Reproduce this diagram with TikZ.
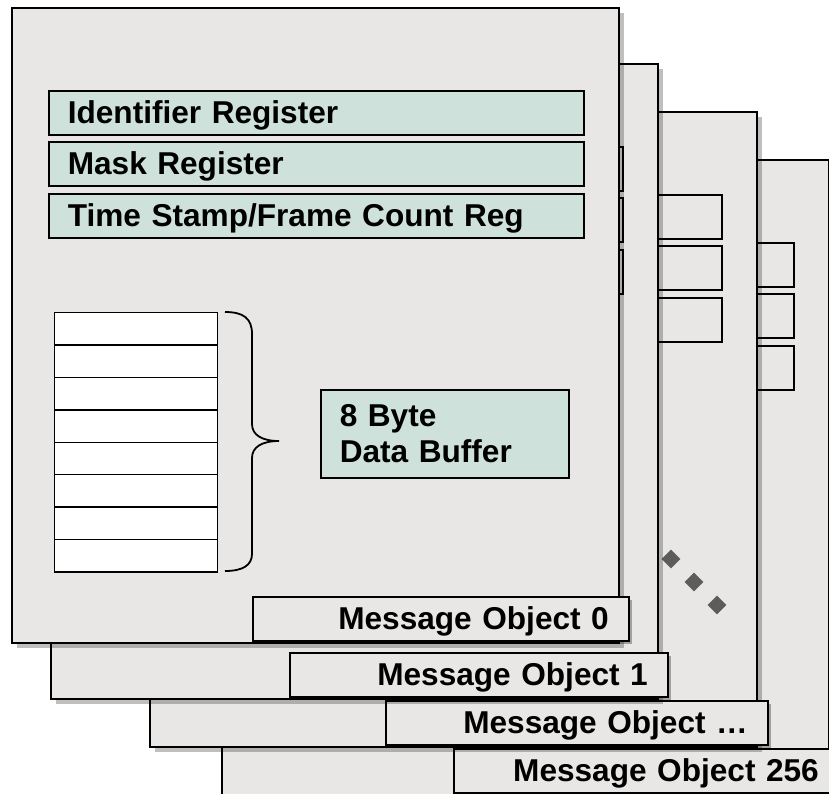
\documentclass[tikz,border=0pt]{standalone}
\usepackage{fontspec}
\setmainfont{Liberation Sans}
\usetikzlibrary{shadows,shapes.geometric}

\definecolor{pagegray}{RGB}{232,231,229}
\definecolor{reggreen}{RGB}{206,226,219}
\definecolor{dotgray}{RGB}{92,92,92}
\newcommand{\regfont}{\fontsize{31.6}{36}\selectfont\bfseries}

\begin{document}
\begin{tikzpicture}[x=1pt,y=-1pt,
   page/.style={draw=black,line width=1.8pt,fill=pagegray,minimum width=607pt,minimum height=635pt,
      anchor=north west,inner sep=0pt,drop shadow={shadow xshift=5pt,shadow yshift=-5pt,opacity=0.25,fill=black}},
   reg/.style={draw=black,line width=1.6pt,fill=reggreen,minimum width=535pt,minimum height=44pt,anchor=north west,
      inner xsep=19pt,inner ysep=0pt,text width=497pt,align=left,text height=22pt,text depth=0pt,font=\regfont},
   emptyreg/.style={reg,fill=pagegray},
   msgbox/.style={draw=black,line width=1.6pt,fill=pagegray,minimum height=44pt,anchor=north west,
      inner xsep=20pt,inner ysep=0pt,align=right,text height=22pt,text depth=0pt,font=\regfont,
      drop shadow={shadow xshift=3pt,shadow yshift=-3pt,opacity=0.3,fill=black}},
   byte/.style={draw=black,line width=1.3pt,fill=white,minimum width=163pt,minimum height=32.4pt,anchor=north west,inner sep=0pt},
   bufbox/.style={draw=black,line width=1.6pt,fill=reggreen,minimum width=248pt,minimum height=88pt,anchor=north west,
      inner xsep=19pt,text width=210pt,align=left,font=\regfont},
   dot/.style={diamond,fill=dotgray,minimum size=19pt,inner sep=0pt}]
   \useasboundingbox (0,0) rectangle (829,793);
   \clip (0,0) rectangle (829,793);

   % Message Object 256
   \node[page] (pg3) at (221,159) {};
   \node[emptyreg] (id3) at ([xshift=37pt,yshift=-83pt]pg3.north west) {};
   \node[emptyreg] (mask3) at ([xshift=37pt,yshift=-134pt]pg3.north west) {};
   \node[emptyreg] (time3) at ([xshift=37pt,yshift=-186pt]pg3.north west) {};
   \node[msgbox,text width=345pt] (msg3) at ([xshift=232pt,yshift=-589pt]pg3.north west) {Message Object 256};

   % Message Object ...
   \node[page] (pg2) at (149,111) {};
   \node[emptyreg] (id2) at ([xshift=37pt,yshift=-83pt]pg2.north west) {};
   \node[emptyreg] (mask2) at ([xshift=37pt,yshift=-134pt]pg2.north west) {};
   \node[emptyreg] (time2) at ([xshift=37pt,yshift=-186pt]pg2.north west) {};
   \node[msgbox,text width=342pt] (msg2) at ([xshift=236pt,yshift=-589pt]pg2.north west) {Message Object \dots};

   % 点々
   \node[dot] (dot1) at (671,559) {};
   \node[dot] (dot2) at (694,582) {};
   \node[dot] (dot3) at (717,605) {};

   % Message Object 1
   \node[page] (pg1) at (50,63) {};
   \node[emptyreg] (id1) at ([xshift=37pt,yshift=-83pt]pg1.north west) {};
   \node[emptyreg] (mask1) at ([xshift=37pt,yshift=-134pt]pg1.north west) {};
   \node[emptyreg] (time1) at ([xshift=37pt,yshift=-186pt]pg1.north west) {};
   \node[msgbox,text width=338pt] (msg1) at ([xshift=239pt,yshift=-589pt]pg1.north west) {Message Object 1};

   % Message Object 0
   \node[page] (pg0) at (11,7) {};
   \node[reg] (id0) at ([xshift=37pt,yshift=-83pt]pg0.north west) {Identifier Register};
   \node[reg] (mask0) at ([xshift=37pt,yshift=-134pt]pg0.north west) {Mask Register};
   \node[reg] (time0) at ([xshift=37pt,yshift=-186pt]pg0.north west) {Time Stamp/Frame Count Reg};
   \node[msgbox,text width=336pt] (msg0) at ([xshift=241pt,yshift=-589pt]pg0.north west) {Message Object 0};

   % データバッファ
   \foreach \i in {0,...,7}
      \node[byte] (byte\i) at (54,{312+32.4*\i}) {};
   \draw[line width=1.8pt] (225,312) .. controls (243,312) and (252,318) .. (252,334) -- (252,424)
      .. controls (252,435) and (262,441) .. (279,441)
      .. controls (262,441) and (252,447) .. (252,458) -- (252,554)
      .. controls (252,565) and (243,571) .. (225,571);
   \node[bufbox] (buf) at (320,389) {8 Byte\\Data Buffer};

\end{tikzpicture}
\end{document}
